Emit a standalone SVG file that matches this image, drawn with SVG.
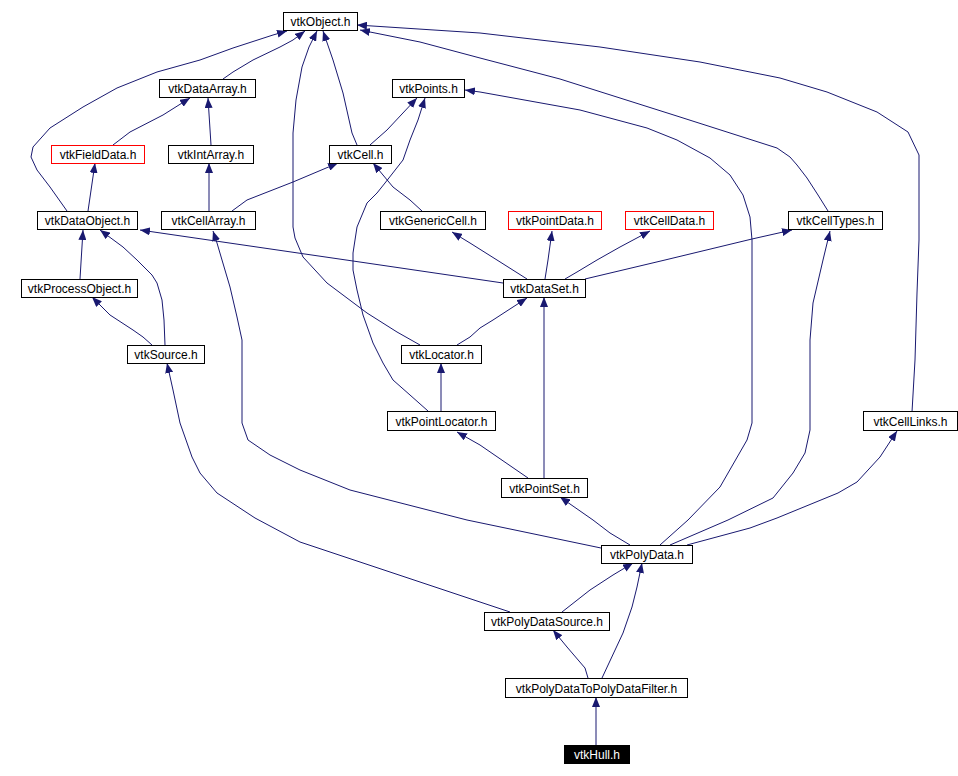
<svg xmlns="http://www.w3.org/2000/svg" width="958" height="776" viewBox="0 0 958 776">
<style>
.n rect{fill:#fff;stroke:#000;stroke-width:1}
.n.red rect{stroke:#f00}
.n.cur rect{fill:#000;stroke:#000}
.n text{font-family:"Liberation Sans",Arial,sans-serif;font-size:12px;text-anchor:middle;fill:#000}
.n.cur text{fill:#fff}
#edges path{fill:none;stroke:#191970;stroke-width:1;stroke-linejoin:round;marker-end:url(#ah)}
</style>
<defs>
<marker id="ah" markerUnits="userSpaceOnUse" markerWidth="10" markerHeight="8" refX="10" refY="4" orient="auto">
<path d="M0,0 L10,4 L0,8 z" fill="#191970"/>
</marker>
</defs>
<rect width="958" height="776" fill="#fff"/>
<g id="edges">
<path d="M67,211 L50,187 L37,170 L31,157 L33,147 L50,128 L83,107 L117,88 L157,72 L200,60 L233,48 L273,35 L287,31"/>
<path d="M223,79 L233,72 L253,60 L280,47 L293,40 L305,31"/>
<path d="M113,145 L130,132 L163,115 L190,98"/>
<path d="M211,145 L208,98"/>
<path d="M209,211 L209,163"/>
<path d="M88,211 L95,163"/>
<path d="M357,145 L352,133 L343,93 L333,60 L323,31"/>
<path d="M370,145 L387,130 L417,98"/>
<path d="M232,211 L247,200 L293,182 L338,163"/>
<path d="M422,211 L410,200 L393,187 L373,163"/>
<path d="M420,345 L397,332 L367,313 L327,283 L303,257 L295,238 L293,227 L293,133 L296,100 L302,67 L309,47 L317,31"/>
<path d="M428,411 L410,395 L393,380 L383,363 L373,343 L363,315 L357,290 L353,270 L353,253 L357,227 L367,203 L377,193 L385,183 L403,160 L410,140 L418,120 L425,98"/>
<path d="M80,279 L83,230"/>
<path d="M165,345 L164,320 L162,300 L157,283 L152,275 L137,260 L123,247 L100,230"/>
<path d="M152,345 L143,337 L133,330 L110,315 L100,305 L92,297"/>
<path d="M503,283 L353,261 L140,230"/>
<path d="M527,279 L497,260 L470,243 L452,232"/>
<path d="M545,279 L548,260 L552,231"/>
<path d="M565,279 L577,272 L597,260 L620,247 L650,231"/>
<path d="M585,279 L665,260 L752,239 L792,230"/>
<path d="M828,211 L818,195 L807,178 L797,165 L790,157 L777,148 L680,117 L560,79 L480,58 L420,42 L360,30"/>
<path d="M912,412 L915,360 L917,293 L919,240 L919,155 L908,132 L877,112 L827,92 L780,78 L700,62 L600,47 L480,33 L357,25"/>
<path d="M660,545 L688,520 L720,487 L747,440 L752,423 L752,240 L750,217 L743,195 L730,175 L710,158 L677,140 L647,128 L580,110 L480,92 L465,90"/>
<path d="M670,545 L728,520 L773,498 L793,473 L805,453 L810,430 L810,340 L813,303 L823,260 L830,231"/>
<path d="M687,545 L750,528 L777,518 L838,493 L857,482 L880,457 L897,431"/>
<path d="M457,345 L470,337 L480,328 L493,320 L513,307 L527,298"/>
<path d="M441,411 L441,363"/>
<path d="M544,478 L544,297"/>
<path d="M528,478 L480,445 L457,432"/>
<path d="M630,545 L610,533 L593,520 L560,497"/>
<path d="M601,548 L467,520 L350,490 L300,470 L270,455 L248,440 L242,423 L242,340 L237,317 L230,287 L222,260 L217,243 L213,231"/>
<path d="M510,612 L300,542 L255,518 L217,493 L200,473 L192,457 L180,423 L173,390 L167,363"/>
<path d="M562,612 L590,590 L613,575 L633,563"/>
<path d="M588,678 L585,668 L567,647 L553,630"/>
<path d="M602,678 L623,633 L632,607 L637,587 L642,563"/>
<path d="M596,745 L596,697"/>
</g>
<g id="vtkObject" class="n"><rect x="283.5" y="12.5" width="74" height="18"/><text x="320.5" y="26">vtkObject.h</text></g>
<g id="vtkDataArray" class="n"><rect x="159.5" y="79.5" width="96" height="18"/><text x="207.5" y="93">vtkDataArray.h</text></g>
<g id="vtkPoints" class="n"><rect x="392.5" y="79.5" width="72" height="18"/><text x="428.5" y="93">vtkPoints.h</text></g>
<g id="vtkFieldData" class="n red"><rect x="51.5" y="145.5" width="93" height="18"/><text x="98" y="159">vtkFieldData.h</text></g>
<g id="vtkIntArray" class="n"><rect x="168.5" y="145.5" width="85" height="18"/><text x="211" y="159">vtkIntArray.h</text></g>
<g id="vtkCell" class="n"><rect x="329.5" y="145.5" width="62" height="18"/><text x="360.5" y="159">vtkCell.h</text></g>
<g id="vtkDataObject" class="n"><rect x="37.5" y="211.5" width="100" height="18"/><text x="87.5" y="225">vtkDataObject.h</text></g>
<g id="vtkCellArray" class="n"><rect x="161.5" y="211.5" width="94" height="18"/><text x="208.5" y="225">vtkCellArray.h</text></g>
<g id="vtkGenericCell" class="n"><rect x="380.5" y="211.5" width="105" height="18"/><text x="433" y="225">vtkGenericCell.h</text></g>
<g id="vtkPointData" class="n red"><rect x="508.5" y="211.5" width="93" height="18"/><text x="555" y="225">vtkPointData.h</text></g>
<g id="vtkCellData" class="n red"><rect x="625.5" y="211.5" width="88" height="18"/><text x="669.5" y="225">vtkCellData.h</text></g>
<g id="vtkCellTypes" class="n"><rect x="788.5" y="211.5" width="94" height="18"/><text x="835.5" y="225">vtkCellTypes.h</text></g>
<g id="vtkProcessObject" class="n"><rect x="21.5" y="279.5" width="116" height="18"/><text x="79.5" y="293">vtkProcessObject.h</text></g>
<g id="vtkDataSet" class="n"><rect x="503.5" y="279.5" width="82" height="18"/><text x="544.5" y="293">vtkDataSet.h</text></g>
<g id="vtkSource" class="n"><rect x="127.5" y="345.5" width="77" height="18"/><text x="166" y="359">vtkSource.h</text></g>
<g id="vtkLocator" class="n"><rect x="401.5" y="345.5" width="80" height="18"/><text x="441.5" y="359">vtkLocator.h</text></g>
<g id="vtkPointLocator" class="n"><rect x="387.5" y="411.5" width="108" height="19"/><text x="441.5" y="425.5">vtkPointLocator.h</text></g>
<g id="vtkCellLinks" class="n"><rect x="863.5" y="411.5" width="94" height="19"/><text x="910.5" y="425.5">vtkCellLinks.h</text></g>
<g id="vtkPointSet" class="n"><rect x="501.5" y="478.5" width="86" height="19"/><text x="544.5" y="492.5">vtkPointSet.h</text></g>
<g id="vtkPolyData" class="n"><rect x="601.5" y="545.5" width="91" height="18"/><text x="647" y="559">vtkPolyData.h</text></g>
<g id="vtkPolyDataSource" class="n"><rect x="484.5" y="612.5" width="125" height="18"/><text x="547" y="626">vtkPolyDataSource.h</text></g>
<g id="vtkPolyDataToPolyDataFilter" class="n"><rect x="505.5" y="678.5" width="182" height="19"/><text x="596.5" y="692.5">vtkPolyDataToPolyDataFilter.h</text></g>
<g id="vtkHull" class="n cur"><rect x="564.5" y="745.5" width="65" height="18"/><text x="597" y="759">vtkHull.h</text></g>
</svg>
